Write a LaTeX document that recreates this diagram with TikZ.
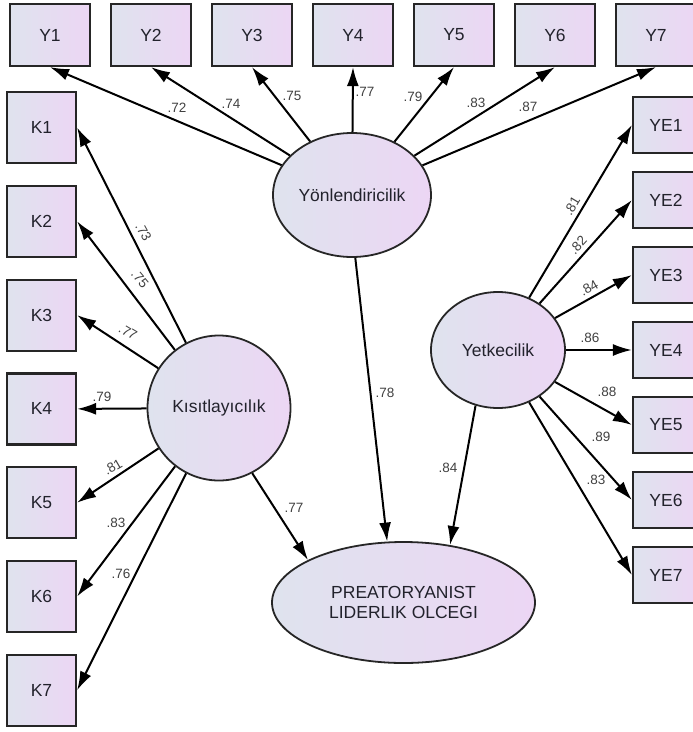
\documentclass[tikz,border=0pt]{standalone}
\usepackage{fontspec}
\setmainfont{Liberation Sans}
\usetikzlibrary{shapes.geometric,arrows.meta}
\definecolor{fillL}{RGB}{223,227,238}
\definecolor{fillR}{RGB}{236,214,244}
\definecolor{ink}{RGB}{34,34,44}

\begin{document}
\begin{tikzpicture}
  [x=1pt,y=-1pt,
   every node/.style={font=\fontsize{17.5}{20}\selectfont,text=ink},
   obs/.style={rectangle,draw=black!85,line width=2.2pt,left color=fillL,right color=fillR,inner sep=0pt},
   lat/.style={ellipse,draw=black!85,line width=1.8pt,left color=fillL,right color=fillR,inner sep=0pt,align=center},
   load/.style={-{Latex[length=19pt,width=12pt]},line width=2pt},
   coef/.style={font=\fontsize{13.5}{15}\selectfont,text=black!75,inner sep=0pt}]
  \useasboundingbox (0,0) rectangle (693,732);

  % factors
  \node[lat,minimum width=158pt,minimum height=124pt] (yon) at (352,195) {Yönlendiricilik};
  \node[lat,minimum width=143pt,minimum height=145pt] (kis) at (219,408) {Kısıtlayıcılık};
  \node[lat,minimum width=134pt,minimum height=116pt] (yet) at (498,350) {Yetkecilik};
  \node[lat,minimum width=263pt,minimum height=121pt] (plo) at (403.5,602.5) {PREATORYANIST\\LIDERLIK OLCEGI};

  % items
  \foreach \i in {1,...,7} {
    \node[obs,minimum width=80pt,minimum height=62pt] (y\i) at ({50+101*(\i-1)},35) {Y\i};
    \node[obs,minimum width=69pt,minimum height=71pt] (k\i) at (41.5,{127.5+93.8*(\i-1)}) {K\i};
    \node[obs,minimum width=66pt,minimum height=56pt] (ye\i) at (666,{125+75*(\i-1)}) {YE\i};
  }

  \foreach \i in {1,...,7} {
    \draw[load] (yon) -- (y\i.south);
    \draw[load] (kis) -- (k\i.east);
    \draw[load] (yet) -- (ye\i.west);
  }
  \draw[load] (kis.-63) -- (plo.156);
  \draw[load] (yon.-87) -- (plo.105);
  \draw[load] (yet.-112) -- (plo.51);

  % loadings
  \foreach \n/\x/\y/\r/\t in {y1/177/108/0/.72, y2/231/104/0/.74, y3/292/96/0/.75,
      y4/365/92/0/.77, y5/413/97/0/.79, y6/476/103/0/.83, y7/528/107/0/.87,
      k1/143.5/232/-61/.73, k2/140/279/-50/.75, k3/128/332/-31/.77, k4/102/397/0/.79,
      k5/113/467/30/.81, k6/116/523/0/.83, k7/121/574/0/.76,
      ye1/572/206/59/.81, ye2/578/245/47/.82, ye3/589/288/30/.84, ye4/590/338/0/.86,
      ye5/607/392/0/.88, ye6/601/437/0/.89, ye7/596/480/0/.83,
      kp/294/508/0/.77, yp/385/393/0/.78, tp/448/468/0/.84}
    \node[coef,rotate=\r] (c\n) at (\x,\y) {\t};

\end{tikzpicture}
\end{document}
